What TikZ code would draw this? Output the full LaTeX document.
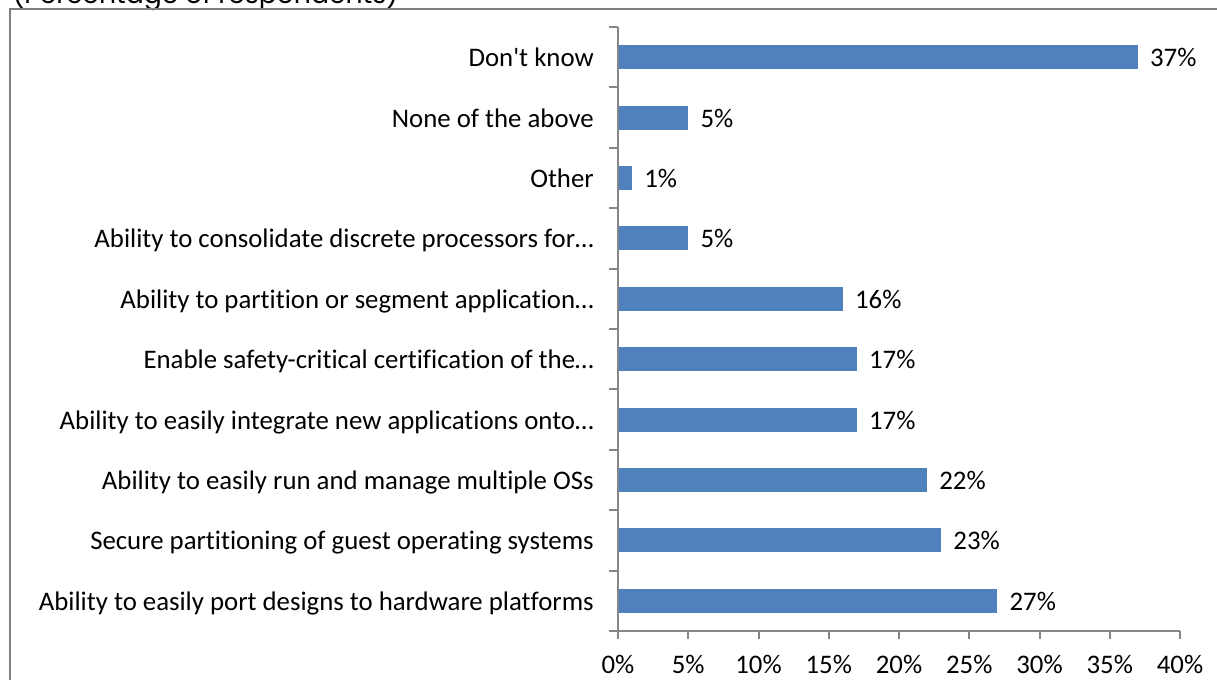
\documentclass[tikz,border=0pt]{standalone}
\usepackage{fontspec}
\setmainfont{Carlito}[Ligatures={NoCommon}]
\newfontfamily\titlefont{Poppins}
\usetikzlibrary{positioning}
\definecolor{barblue}{RGB}{79,129,189}
\definecolor{axisgray}{RGB}{134,134,134}
\definecolor{framegray}{RGB}{128,128,128}

\begin{document}
\begin{tikzpicture}[x=0.75pt,y=-0.75pt,
  catlab/.style={anchor=base east, inner sep=0pt, font=\fontsize{20.1}{24}\selectfont},
  vallab/.style={anchor=base west, inner sep=0pt, font=\fontsize{20.1}{24}\selectfont},
  ticklab/.style={anchor=base, inner sep=0pt, font=\fontsize{20.1}{24}\selectfont},
  axisline/.style={axisgray, line width=1.5pt}]
\useasboundingbox (0,0) rectangle (1217,680);
\clip (0,0) rectangle (1217,680);
% frame and cut-off title
\node[anchor=base west, inner sep=0pt, font=\titlefont\fontsize{20}{24}\selectfont] (title) at (12,4) {(Percentage of respondents)};
\draw[framegray, line width=1.5pt] (9.5,680) -- (9.5,9.5) -- (1217,9.5);

% bars with labels
\foreach \val/\lab [count=\i] in {37/Don\textquotesingle t know, 5/None of the above, 1/Other,
    5/Ability to consolidate discrete processors for…,
    16/Ability to partition or segment application…,
    17/Enable safety-critical certification of the…,
    17/Ability to easily integrate new applications onto…,
    22/Ability to easily run and manage multiple OSs,
    23/Secure partitioning of guest operating systems,
    27/Ability to easily port designs to hardware platforms}{
  \pgfmathsetmacro\yc{27+60.4*(\i-0.5)}
  \fill[barblue] (619,\yc-12) rectangle (618+14.05*\val,\yc+12);
  \node[catlab] (cat\i) at (594,\yc+9.5) {\lab};
  \node[vallab] (val\i) at (630+14.05*\val,\yc+9.5) {\val\%};
}

% axes
\draw[axisline] (618,27) -- (618,631.4);
\draw[axisline] (609,631.4) -- (1180,631.4);
\foreach \k in {0,...,9}
  \draw[axisline] (609,27+60.4*\k) -- (618,27+60.4*\k);
\foreach \j [evaluate=\j as \p using int(5*\j)] in {0,...,8}{
  \draw[axisline] (618+70.25*\j,631.4) -- (618+70.25*\j,638.5);
  \node[ticklab] (tick\j) at (618+70.25*\j,673) {\p\%};
}
\end{tikzpicture}
\end{document}
